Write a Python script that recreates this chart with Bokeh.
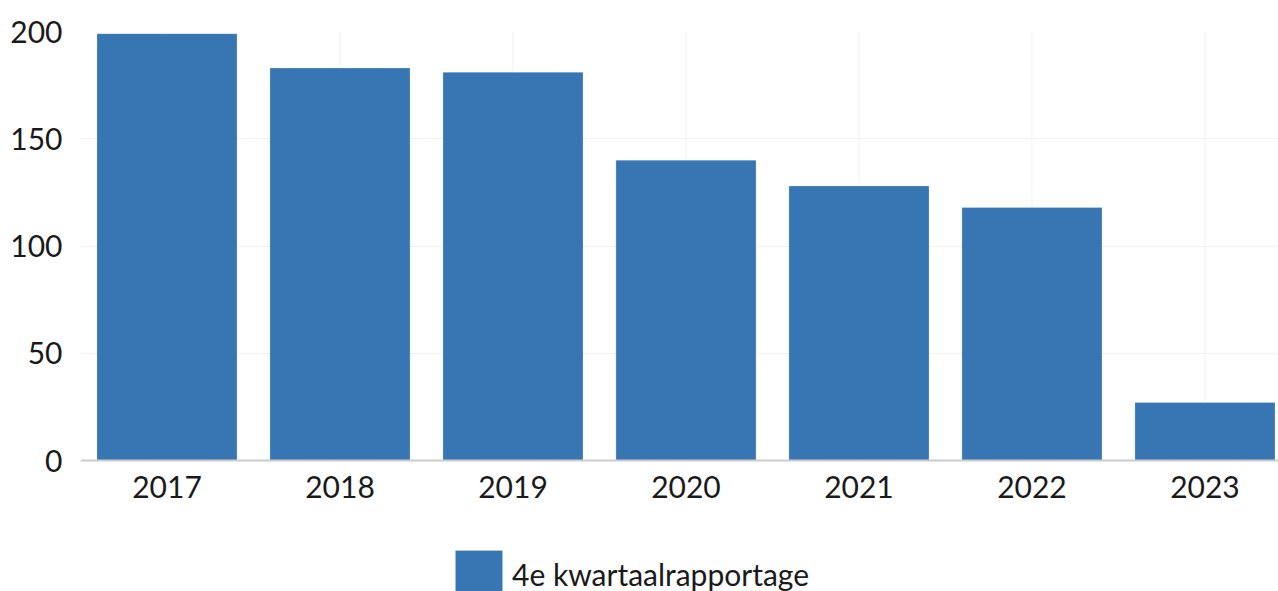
from bokeh.plotting import figure
from bokeh.models import ColumnDataSource, Legend, LegendItem, FixedTicker, Range1d
from bokeh.embed import file_html
from bokeh.resources import INLINE

years = ["2017", "2018", "2019", "2020", "2021", "2022", "2023"]
values = [199, 183, 181, 140, 128, 118, 27]
series_name = "4e kwartaalrapportage"
y_ticks = [0, 50, 100, 150, 200]

xs = list(range(len(years)))
src = ColumnDataSource(dict(x=xs, top=values, year=years))

# frame spans the full height below the top border; y=0 sits at 460px,
# the space under it holds the x labels and the legend
p = figure(width=1278, height=591, output_backend="svg", toolbar_location=None,
           x_range=Range1d(-0.5, 6.425), y_range=Range1d(-61.07, 200),
           min_border_left=80, min_border_right=0, min_border_top=31, min_border_bottom=0)
p.outline_line_color = None

# faint vertical grid lines at category centres, only over the plot area
p.segment(x0=xs, y0=[0] * len(xs), x1=xs, y1=[y_ticks[-1]] * len(xs),
          line_color="#f2f2f2", line_width=1, level="underlay")

r = p.vbar(x="x", top="top", width=0.81, source=src, fill_color="#3776b2",
           line_color="#ffffff", line_alpha=0.25, line_width=1)

FONT = "Lato"
p.xaxis.ticker = FixedTicker(ticks=xs)
p.xaxis.major_label_overrides = {i: y for i, y in enumerate(years)}
p.xaxis.fixed_location = 0
p.yaxis.ticker = FixedTicker(ticks=y_ticks)
for ax in (p.xaxis[0], p.yaxis[0]):
    ax.major_label_text_font = FONT
    ax.major_label_text_font_size = "30px"
    ax.major_label_text_color = "#1a1a1a"
    ax.major_tick_line_color = None
    ax.minor_tick_line_color = None
    ax.major_tick_out = 0
    ax.major_tick_in = 0
    ax.minor_tick_out = 0
    ax.minor_tick_in = 0
p.yaxis.axis_line_color = None
p.yaxis.major_label_standoff = 18
p.xaxis.axis_line_color = "#cccccc"
p.xaxis.axis_line_width = 2
p.xaxis.major_label_standoff = 15

p.xgrid.grid_line_color = None
p.ygrid.grid_line_color = "#f2f2f2"
p.ygrid.grid_line_width = 1

legend = Legend(items=[LegendItem(label=series_name, renderers=[r])],
                location=(369, -12), orientation="horizontal",
                glyph_width=59, glyph_height=59, label_text_font=FONT,
                label_text_font_size="30px", label_text_color="#1a1a1a",
                label_height=59,
                padding=0, margin=0, spacing=0, label_standoff=4,
                border_line_color=None, background_fill_alpha=0)
p.add_layout(legend, "center")

open("out.html", "w").write(file_html(p, INLINE))
